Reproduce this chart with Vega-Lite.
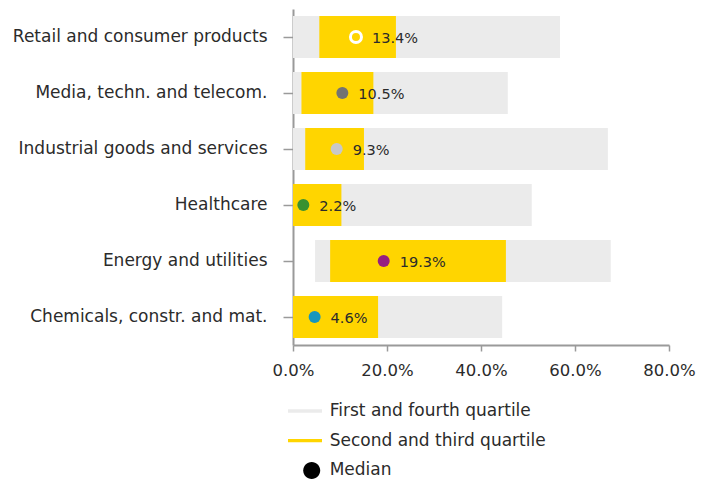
{
  "$schema": "https://vega.github.io/schema/vega-lite/v6.json",
  "width": 376,
  "height": 336,
  "autosize": {"type": "none"},
  "padding": {"left": 293, "top": 9, "right": 45, "bottom": 134},
  "background": "white",
  "config": {
    "view": {"stroke": null},
    "axis": {"grid": false, "domainColor": "#9a9a9a", "domainWidth": 2, "tickColor": "#9a9a9a", "tickWidth": 1.5, "labelFont": "DejaVu Sans", "labelColor": "#2b2b2b", "labelLimit": 0}
  },
  "data": {
    "values": [
      {"sector": "Retail and consumer products", "min": 0, "q1": 0.056, "median": 0.134, "q3": 0.219, "max": 0.568},
      {"sector": "Media, techn. and telecom.", "min": 0, "q1": 0.018, "median": 0.105, "q3": 0.171, "max": 0.457},
      {"sector": "Industrial goods and services", "min": 0, "q1": 0.026, "median": 0.093, "q3": 0.151, "max": 0.670},
      {"sector": "Healthcare", "min": 0, "q1": 0, "median": 0.022, "q3": 0.103, "max": 0.508},
      {"sector": "Energy and utilities", "min": 0.047, "q1": 0.079, "median": 0.193, "q3": 0.453, "max": 0.676},
      {"sector": "Chemicals, constr. and mat.", "min": 0, "q1": 0, "median": 0.046, "q3": 0.181, "max": 0.445}
    ]
  },
  "encoding": {
    "y": {
      "field": "sector", "type": "nominal", "sort": null, "title": null,
      "scale": {"paddingInner": 0.25, "paddingOuter": 0.125},
      "axis": {"labelFontSize": 17, "labelPadding": 16, "tickSize": 10, "labelLimit": 0}
    }
  },
  "layer": [
    {
      "mark": {"type": "bar", "color": "#ebebeb"},
      "encoding": {
        "x": {
          "field": "min", "type": "quantitative", "title": null,
          "scale": {"domain": [0, 0.8], "nice": false},
          "axis": {"format": ".1%", "values": [0, 0.2, 0.4, 0.6, 0.8], "tickSize": 6, "labelPadding": 11, "labelFontSize": 16.5, "labelFlush": false}
        },
        "x2": {"field": "max"}
      }
    },
    {
      "mark": {"type": "bar", "color": "#ffd500"},
      "encoding": {
        "x": {"field": "q1", "type": "quantitative"},
        "x2": {"field": "q3"}
      }
    },
    {
      "mark": {"type": "point", "filled": true, "size": 144, "opacity": 1, "strokeWidth": 0, "shape": "circle"},
      "encoding": {
        "x": {"field": "median", "type": "quantitative"},
        "fill": {
          "field": "sector", "type": "nominal", "legend": null,
          "scale": {
            "domain": ["Retail and consumer products", "Media, techn. and telecom.", "Industrial goods and services", "Healthcare", "Energy and utilities", "Chemicals, constr. and mat."],
            "range": ["#ffd500", "#737373", "#c8c8c8", "#3a9130", "#961e82", "#1796bd"]
          }
        }
      }
    },
    {
      "transform": [{"filter": "datum.sector === 'Retail and consumer products'"}],
      "mark": {"type": "point", "filled": false, "size": 121, "stroke": "#ffffff", "strokeWidth": 3, "opacity": 1, "shape": "circle"},
      "encoding": {
        "x": {"field": "median", "type": "quantitative"}
      }
    },
    {
      "mark": {"type": "text", "align": "left", "baseline": "middle", "dx": 16, "dy": 2, "font": "DejaVu Sans", "fontSize": 14.5, "color": "#2b2b2b"},
      "encoding": {
        "x": {"field": "median", "type": "quantitative"},
        "text": {"field": "median", "type": "quantitative", "format": ".1%"}
      }
    },
    {
      "data": {"values": [{"key": "First and fourth quartile"}, {"key": "Second and third quartile"}, {"key": "Median"}]},
      "mark": {"type": "point", "filled": true, "opacity": 0},
      "encoding": {
        "x": {"datum": 0, "type": "quantitative"},
        "y": {"datum": "Retail and consumer products", "type": "nominal"},
        "color": {
          "field": "key", "type": "nominal",
          "scale": {"domain": ["First and fourth quartile", "Second and third quartile", "Median"], "range": ["#ebebeb", "#ffd500", "#000000"]},
          "legend": {"orient": "none", "legendX": 8.7, "legendY": 392, "title": null, "labelFont": "DejaVu Sans", "labelFontSize": 17, "labelColor": "#2b2b2b", "labelLimit": 0, "symbolSize": 400, "symbolOpacity": 1, "symbolStrokeWidth": 0, "labelOffset": 8, "rowPadding": 11.7, "padding": 0, "direction": "vertical",
            "encode": {"symbols": {"update": {"opacity": {"value": 1}, "fillOpacity": {"value": 1}}}}}
        },
        "shape": {
          "field": "key", "type": "nominal",
          "scale": {"domain": ["First and fourth quartile", "Second and third quartile", "Median"], "range": ["M-2.37,-0.165H1.03V0.165H-2.37Z", "M-2.37,-0.165H1.03V0.165H-2.37Z", "M-0.85,0A0.85,0.85,0,1,0,0.85,0A0.85,0.85,0,1,0,-0.85,0Z"]}
        }
      }
    }
  ]
}
